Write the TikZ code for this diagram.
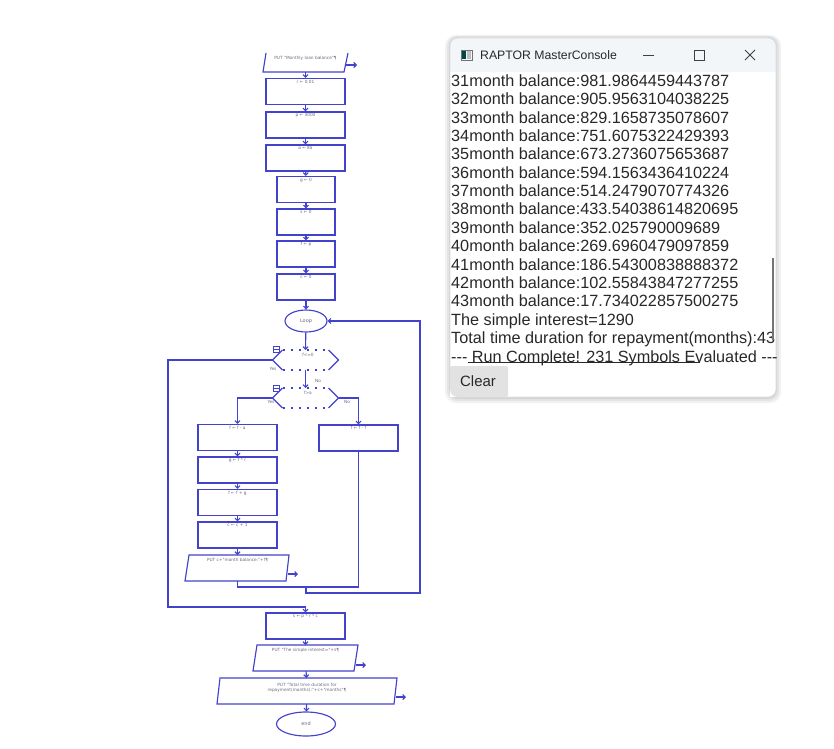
\documentclass[tikz,border=0pt]{standalone}
\usepackage{fontspec}
\setmainfont{Liberation Sans}
\newfontfamily\djv{DejaVu Sans}
\usetikzlibrary{arrows.meta,shapes.geometric}
\definecolor{rblue}{RGB}{66,66,205}
\definecolor{lblc}{RGB}{105,105,125}
\definecolor{contxt}{RGB}{40,40,40}
\definecolor{titlec}{RGB}{243,246,249}
\definecolor{btnc}{RGB}{226,226,226}
\begin{document}
\begin{tikzpicture}[x=1bp,y=-1bp,
 fc/.style={draw=rblue,line width=1.15bp},
 con/.style={draw=rblue,line width=1.15bp},
 arr/.style={con,-{Straight Barb[length=2.5bp,width=5bp]}},
 box/.style={fc,rectangle,inner sep=0,minimum height=26bp},
 wbox/.style={box,minimum width=79bp},
 nbox/.style={box,minimum width=58bp},
 tiny/.style={font=\djv\fontsize{4.3}{5}\selectfont,text=lblc,inner sep=0.6bp},
 txt/.style={tiny,anchor=north,yshift=-1.5bp},
 oval/.style={fc,ellipse,inner sep=0},
 ghost/.style={inner sep=0,outer sep=0},
 dia/.style={ghost,minimum width=66bp,minimum height=20bp},
 cline/.style={anchor=base west,inner sep=0,font=\fontsize{16.3}{18}\selectfont,text=contxt},
]
\useasboundingbox (0,0) rectangle (834,749);

% ---------------- flowchart ----------------
\node[ghost,minimum width=84bp,minimum height=19bp] (p0) at (305.5,62.5) {};
\draw[fc] (266,53) -- (263,72) -- (344,72) -- (348,53);
\node[tiny] (p0t) at (305.5,58) {PUT "Monthly loan balance"¶};
\coordinate (o0) at (357,65);
\draw[arr] (346,65) -- (o0);

\node[wbox,label={[txt]north:{r ← 0.01}}] (b1) at (305.5,91.5) {};
\node[wbox,label={[txt]north:{p ← 3000}}] (b2) at (305.5,125) {};
\node[wbox,label={[txt]north:{a ← 85}}] (b3) at (305.5,158) {};
\node[nbox,label={[txt]north:{g ← 0}}] (b4) at (306,189.5) {};
\node[nbox,label={[txt]north:{s ← 0}}] (b5) at (306,222) {};
\node[nbox,label={[txt]north:{f ← p}}] (b6) at (306,254) {};
\node[nbox,label={[txt]north:{c ← 0}}] (b7) at (306,287) {};
\node[oval,minimum width=42bp,minimum height=22bp,font=\djv\fontsize{5}{6}\selectfont,text=lblc] (loop) at (306,321) {Loop};

\draw[arr] (p0.south) -- (b1.north);
\draw[arr] (b1) -- (b2);
\draw[arr] (b2) -- (b3);
\draw[arr] (b3) -- (b4);
\draw[arr] (b4) -- (b5);
\draw[arr] (b5) -- (b6);
\draw[arr] (b6) -- (b7);
\draw[arr] (b7) -- (loop);

% decisions
\node[dia] (d1) at (305.5,360) {};
\node[dia] (d2) at (305.5,398) {};
\foreach \d in {d1,d2}{
  \draw[fc,dash pattern=on 2.5bp off 5.5bp] ([xshift=10bp]\d.north west) -- ([xshift=-10bp]\d.north east);
  \draw[fc,dash pattern=on 2.5bp off 5.5bp] ([xshift=10bp]\d.south west) -- ([xshift=-10bp]\d.south east);
  \draw[fc] ([xshift=-10bp]\d.north east) -- (\d.east) -- ([xshift=-10bp]\d.south east);
  \draw[fc] ([xshift=10bp]\d.north west) -- (\d.west) -- ([xshift=10bp]\d.south west);
}
\node[tiny] (d1t) at (308,355) {f<=0};
\node[tiny] (d2t) at (308,393) {f>a};
\node[draw=rblue,line width=0.8bp,minimum size=6bp,inner sep=0] (ic1) at (276,349) {};
\draw[rblue,line width=0.8bp] (ic1.west) -- (ic1.east);
\node[draw=rblue,line width=0.8bp,minimum size=6bp,inner sep=0] (ic2) at (276,388) {};
\draw[rblue,line width=0.8bp] (ic2.west) -- (ic2.east);
\node[tiny] (y1) at (273,369) {Yes};
\node[tiny] (n1) at (318,381) {No};
\node[tiny] (y2) at (271,402) {Yes};
\node[tiny] (n2) at (347,402) {No};

\draw[arr] (loop) -- (d1.north);
\draw[arr] (d1.south) -- (d2.north);

% branches
\node[wbox,label={[txt]north:{f ← f - a}}] (l1) at (237.5,437.5) {};
\node[wbox,label={[txt]north:{g ← f * r}}] (l2) at (237.5,470) {};
\node[wbox,label={[txt]north:{f ← f + g}}] (l3) at (237.5,502.5) {};
\node[wbox,label={[txt]north:{c ← c + 1}}] (l4) at (237.5,535) {};
\node[ghost,minimum width=104bp,minimum height=26bp] (pl) at (237.5,568) {};
\draw[fc] (189,555) -- (289,555) -- (286,581) -- (185,581) -- cycle;
\node[tiny] (plt) at (237.5,560) {PUT c+"month balance:"+f¶};
\coordinate (ol) at (298,574);
\draw[arr] (288,574) -- (ol);
\node[wbox,label={[txt]north:{f ← f - f}}] (r1) at (358.5,438) {};

\draw[arr] (d2.west) -| (l1.north);
\draw[arr] (d2.east) -| (r1.north);
\draw[arr] (l1) -- (l2);
\draw[arr] (l2) -- (l3);
\draw[arr] (l3) -- (l4);
\draw[arr] (l4) -- (pl);

\coordinate (jn) at (306,587);
\coordinate (lbB) at (306,593);
\coordinate (lbR) at (420,593);
\coordinate (lbT) at (420,321);
\draw[con] (pl.south) |- (jn);
\draw[con] (r1.south) |- (jn);
\draw[arr] (jn) -- (lbB) -- (lbR) -- (lbT) -- (loop.east);

% exit
\coordinate (exL) at (168,360);
\coordinate (exB) at (168,607);
\node[wbox,label={[txt]north:{s ← p * r * c}}] (bs) at (305.5,626) {};
\draw[arr] (d1.west) -- (exL) -- (exB) -| (bs.north);

\node[ghost,minimum width=105bp,minimum height=26bp] (pb1) at (305.5,658) {};
\draw[fc] (257,645) -- (358,645) -- (354,671) -- (253,671) -- cycle;
\node[tiny] (pb1t) at (305.5,650) {PUT "The simple interest="+s¶};
\coordinate (o1) at (366,665);
\draw[arr] (356,665) -- (o1);

\node[ghost,minimum width=180bp,minimum height=26bp] (pb2) at (307,691) {};
\draw[fc] (220,678) -- (397,678) -- (394,704) -- (217,704) -- cycle;
\node[tiny,align=center] (pb2t) at (307,688) {PUT "Total time duration for\\repayment(months):"+c+"months"¶};
\coordinate (o2) at (406,697);
\draw[arr] (396,697) -- (o2);

\node[oval,minimum width=59bp,minimum height=24bp,font=\djv\fontsize{5}{6}\selectfont,text=lblc] (endE) at (306,724) {end};

\draw[arr] (bs) -- (pb1);
\draw[arr] (pb1) -- (pb2);
\draw[arr] (pb2) -- (endE);

% ---------------- console ----------------
\fill[black,opacity=0.05,rounded corners=11] (445,35) rectangle (781,403);
\fill[black,opacity=0.06,rounded corners=10] (447,36) rectangle (779,401);
\fill[black,opacity=0.07,rounded corners=9] (449,37) rectangle (777,399);
\fill[white,rounded corners=8] (450,38) rectangle (776,397);
\fill[titlec,rounded corners=8] (450,38) rectangle (776,82);
\fill[white] (450,72) rectangle (776,84);
\draw[black!14,line width=0.6bp,rounded corners=8] (450,38) rectangle (776,397);

\draw[black!55,line width=0.7bp] (461,50) rectangle (472,60);
\fill[teal!55!black] (462,51) rectangle (466,59);
\fill[black!25] (467,51) rectangle (471,59);
\node[anchor=west,inner sep=0,font=\fontsize{12.3}{14}\selectfont,text=contxt] (title) at (480,55.5) {RAPTOR MasterConsole};
\draw[black!75,line width=0.8bp] (643,55) -- (654,55);
\draw[black!75,line width=0.8bp] (694,50) rectangle (704,60);
\draw[black!75,line width=0.8bp] (745,50) -- (755,60) (745,60) -- (755,50);

\foreach \t [count=\i] in {%
 31month balance:981.9864459443787,
 32month balance:905.9563104038225,
 33month balance:829.1658735078607,
 34month balance:751.6075322429393,
 35month balance:673.2736075653687,
 36month balance:594.1563436410224,
 37month balance:514.2479070774326,
 38month balance:433.54038614820695,
 39month balance:352.025790009689,
 40month balance:269.6960479097859,
 41month balance:186.54300838888372,
 42month balance:102.55843847277255,
 43month balance:17.734022857500275,
 The simple interest=1290}{
  \node[cline] (c\i) at (451,{86.3+18.38*(\i-1)}) {\t};
}
\begin{scope}
\clip (450,320) rectangle (776,370);
\node[cline] (c15) at (451,{86.3+18.38*14}) {Total time duration for repayment(months):43};
\node[cline] (c16) at (451,{86.3+18.38*15}) {-{}-{}- Run Complete! 231 Symbols Evaluated -{}-{}-};
\end{scope}
\draw[contxt,line width=0.8bp] (468,362.5) -- (700,362.5);
\draw[black!55,line width=1.4bp] (773,258) -- (773,340);

\fill[btnc,rounded corners=2] (450,366) rectangle (508,397);
\fill[white] (450,389) rectangle (458,397);
\fill[btnc] (458,397) arc[start angle=-90,end angle=-180,radius=8bp] -- (450,389) -- (458,389) -- cycle;
\node[inner sep=0,font=\fontsize{15}{17}\selectfont,text=contxt] (clear) at (478,381.5) {Clear};
\end{tikzpicture}
\end{document}
